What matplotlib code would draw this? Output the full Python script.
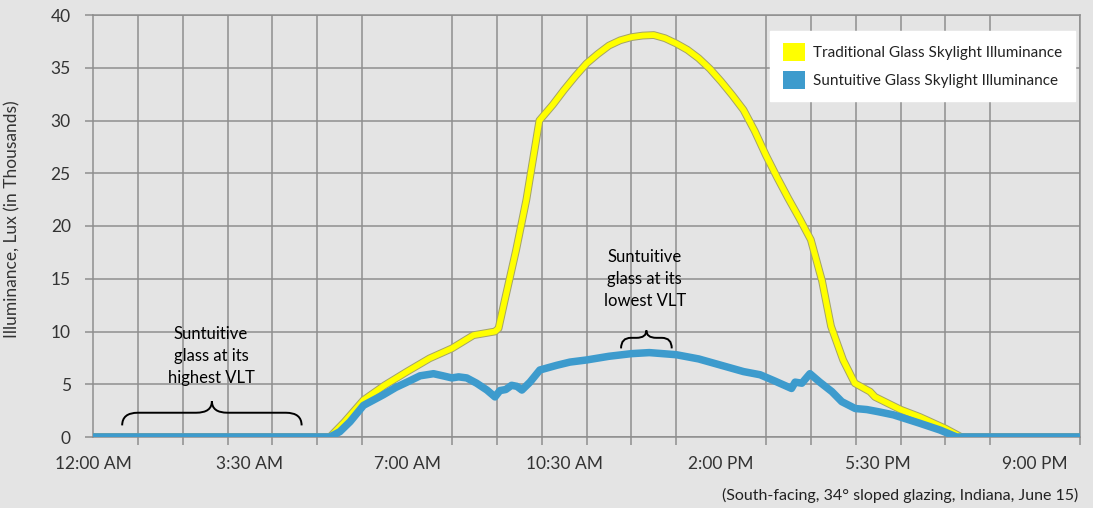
import matplotlib
matplotlib.use("Agg")
import matplotlib.pyplot as plt
from matplotlib.patches import Patch, PathPatch
from matplotlib.path import Path
import matplotlib.patheffects as pe

# Data (hours after midnight, illuminance in thousands of lux)
hours_trad = [0, 5.28, 5.6, 6.03, 6.5, 7.0, 7.5, 8.0, 8.48, 8.96, 9.04, 9.18, 9.43, 9.66,
              9.95, 10.25, 10.5, 10.75, 11.0, 11.25, 11.5, 11.75, 12.0, 12.25, 12.5, 12.75,
              13.0, 13.25, 13.5, 13.75, 14.0, 14.25, 14.5, 14.75, 15.0, 15.25, 15.5, 15.75,
              16.0, 16.25, 16.45, 16.72, 16.98, 17.32, 17.43, 18.0, 18.43, 19.0, 19.35, 22]
trad = [0, 0, 1.4, 3.5, 4.9, 6.2, 7.45, 8.4, 9.65, 10.0, 10.3, 13.0, 17.7, 22.5,
        30.0, 31.5, 32.9, 34.2, 35.4, 36.3, 37.1, 37.6, 37.9, 38.05, 38.1, 37.8,
        37.3, 36.7, 35.9, 34.9, 33.7, 32.4, 31.0, 29.0, 26.7, 24.6, 22.6, 20.7,
        18.7, 14.8, 10.5, 7.3, 5.1, 4.3, 3.8, 2.6, 1.9, 0.8, 0, 0]

hours_sun = [0, 5.28, 5.5, 5.73, 6.03, 6.25, 6.47, 6.75, 7.0, 7.29, 7.59, 7.8, 8.0, 8.15,
             8.33, 8.55, 8.78, 8.96, 9.07, 9.2, 9.33, 9.45, 9.56, 9.74, 9.96, 10.34,
             10.63, 11.0, 11.5, 12.0, 12.4, 13.0, 13.5, 14.0, 14.5, 14.87, 15.2, 15.57,
             15.65, 15.8, 15.98, 16.2, 16.47, 16.69, 16.99, 17.25, 17.5, 17.84, 18.43,
             18.88, 19.25, 22]
sun = [0, 0, 0.5, 1.45, 3.0, 3.5, 4.0, 4.7, 5.2, 5.8, 6.0, 5.8, 5.6, 5.7,
       5.6, 5.1, 4.45, 3.8, 4.4, 4.5, 4.9, 4.8, 4.45, 5.2, 6.35, 6.8,
       7.1, 7.3, 7.65, 7.9, 8.0, 7.8, 7.4, 6.8, 6.2, 5.9, 5.3, 4.6,
       5.2, 5.1, 6.0, 5.2, 4.3, 3.35, 2.7, 2.6, 2.4, 2.1, 1.3,
       0.66, 0, 0]

tick_hours = [0, 3.5, 7, 10.5, 14, 17.5, 21]
tick_labels = ["12:00 AM", "3:30 AM", "7:00 AM", "10:30 AM", "2:00 PM", "5:30 PM", "9:00 PM"]
series_names = ["Traditional Glass Skylight Illuminance", "Suntuitive Glass Skylight Illuminance"]

plt.rcParams['font.family'] = ['Lato', 'DejaVu Sans']

bg = '#e4e4e4'
grid_c = '#8e8e8e'
yellow = '#ffff00'
blue = '#3d9bcd'
txt_c = '#333333'

fig = plt.figure(figsize=(10.93, 5.08), dpi=100, facecolor=bg)
ax = fig.add_axes([93 / 1093, 71 / 508, 987 / 1093, 422 / 508], facecolor=bg)

ax.set_xlim(0, 22)
ax.set_ylim(0, 40)

# grid every hour, labels every 3.5 hours
ax.set_xticks(range(0, 23), minor=True)
ax.set_xticks(tick_hours)
ax.set_xticklabels(tick_labels)
ax.set_yticks(range(0, 41, 5))
ax.grid(which='minor', axis='x', color=grid_c, lw=1.1)
ax.grid(which='major', axis='y', color=grid_c, lw=1.1)
ax.tick_params(axis='x', which='minor', length=6, color=grid_c, width=1.1)
ax.tick_params(axis='x', which='major', length=0, labelsize=12.5, labelcolor=txt_c, pad=14)
ax.tick_params(axis='y', length=6, color=grid_c, width=1.1, labelsize=12.5,
               labelcolor=txt_c, pad=10)
for s in ax.spines.values():
    s.set_color(grid_c)
    s.set_linewidth(1.1)

# lines
ax.plot(hours_trad, trad, color=yellow, lw=4.2, solid_joinstyle='round',
        path_effects=[pe.Stroke(linewidth=5.6, foreground='#a3a36a'), pe.Normal()], zorder=3)
ax.plot(hours_sun, sun, color=blue, lw=5.4, solid_joinstyle='round', zorder=4)

ax.set_ylabel("Illuminance, Lux (in Thousands)", fontsize=12.5, color=txt_c)
ax.yaxis.set_label_coords(-0.0735, 0.515)


def brace(x0, x1, ytip, yflat, ypeak, r):
    xm = (x0 + x1) / 2
    verts = [(x0, ytip), (x0, yflat), (x0 + r, yflat), (xm - r, yflat),
             (xm, yflat), (xm, ypeak), (xm, yflat), (xm + r, yflat),
             (x1 - r, yflat), (x1, yflat), (x1, ytip)]
    codes = [Path.MOVETO, Path.CURVE3, Path.CURVE3, Path.LINETO,
             Path.CURVE3, Path.CURVE3, Path.CURVE3, Path.CURVE3,
             Path.LINETO, Path.CURVE3, Path.CURVE3]
    ax.add_patch(PathPatch(Path(verts, codes), fc='none', ec='black', lw=1.4, zorder=5))


brace(0.65, 4.65, 1.1, 2.3, 3.4, 0.35)
ax.text(2.63, 7.7, "Suntuitive\nglass at its\nhighest VLT", ha='center', va='center',
        fontsize=12, linespacing=1.45, color='black')

brace(11.77, 12.9, 8.4, 9.4, 10.1, 0.22)
ax.text(12.3, 15.0, "Suntuitive\nglass at its\nlowest VLT", ha='center', va='center',
        fontsize=12, linespacing=1.45, color='black')

handles = [Patch(facecolor=yellow, edgecolor='none'), Patch(facecolor=blue, edgecolor='none')]
leg = ax.legend(handles, series_names, loc='upper right', bbox_to_anchor=(0.9945, 0.962),
                borderaxespad=0, frameon=True, fancybox=False, framealpha=1,
                facecolor='white', edgecolor='white', fontsize=11,
                handlelength=1.45, handleheight=1.45, handletextpad=0.55,
                labelspacing=0.6, borderpad=0.8)
for t in leg.get_texts():
    t.set_color('#222222')
leg.set_zorder(6)

fig.text(1078 / 1093, 1 - 495 / 508, "(South-facing, 34° sloped glazing, Indiana, June 15)",
         ha='right', va='center', fontsize=11.5, color='#222222')

fig.savefig("out.png", dpi=100, facecolor=bg)
